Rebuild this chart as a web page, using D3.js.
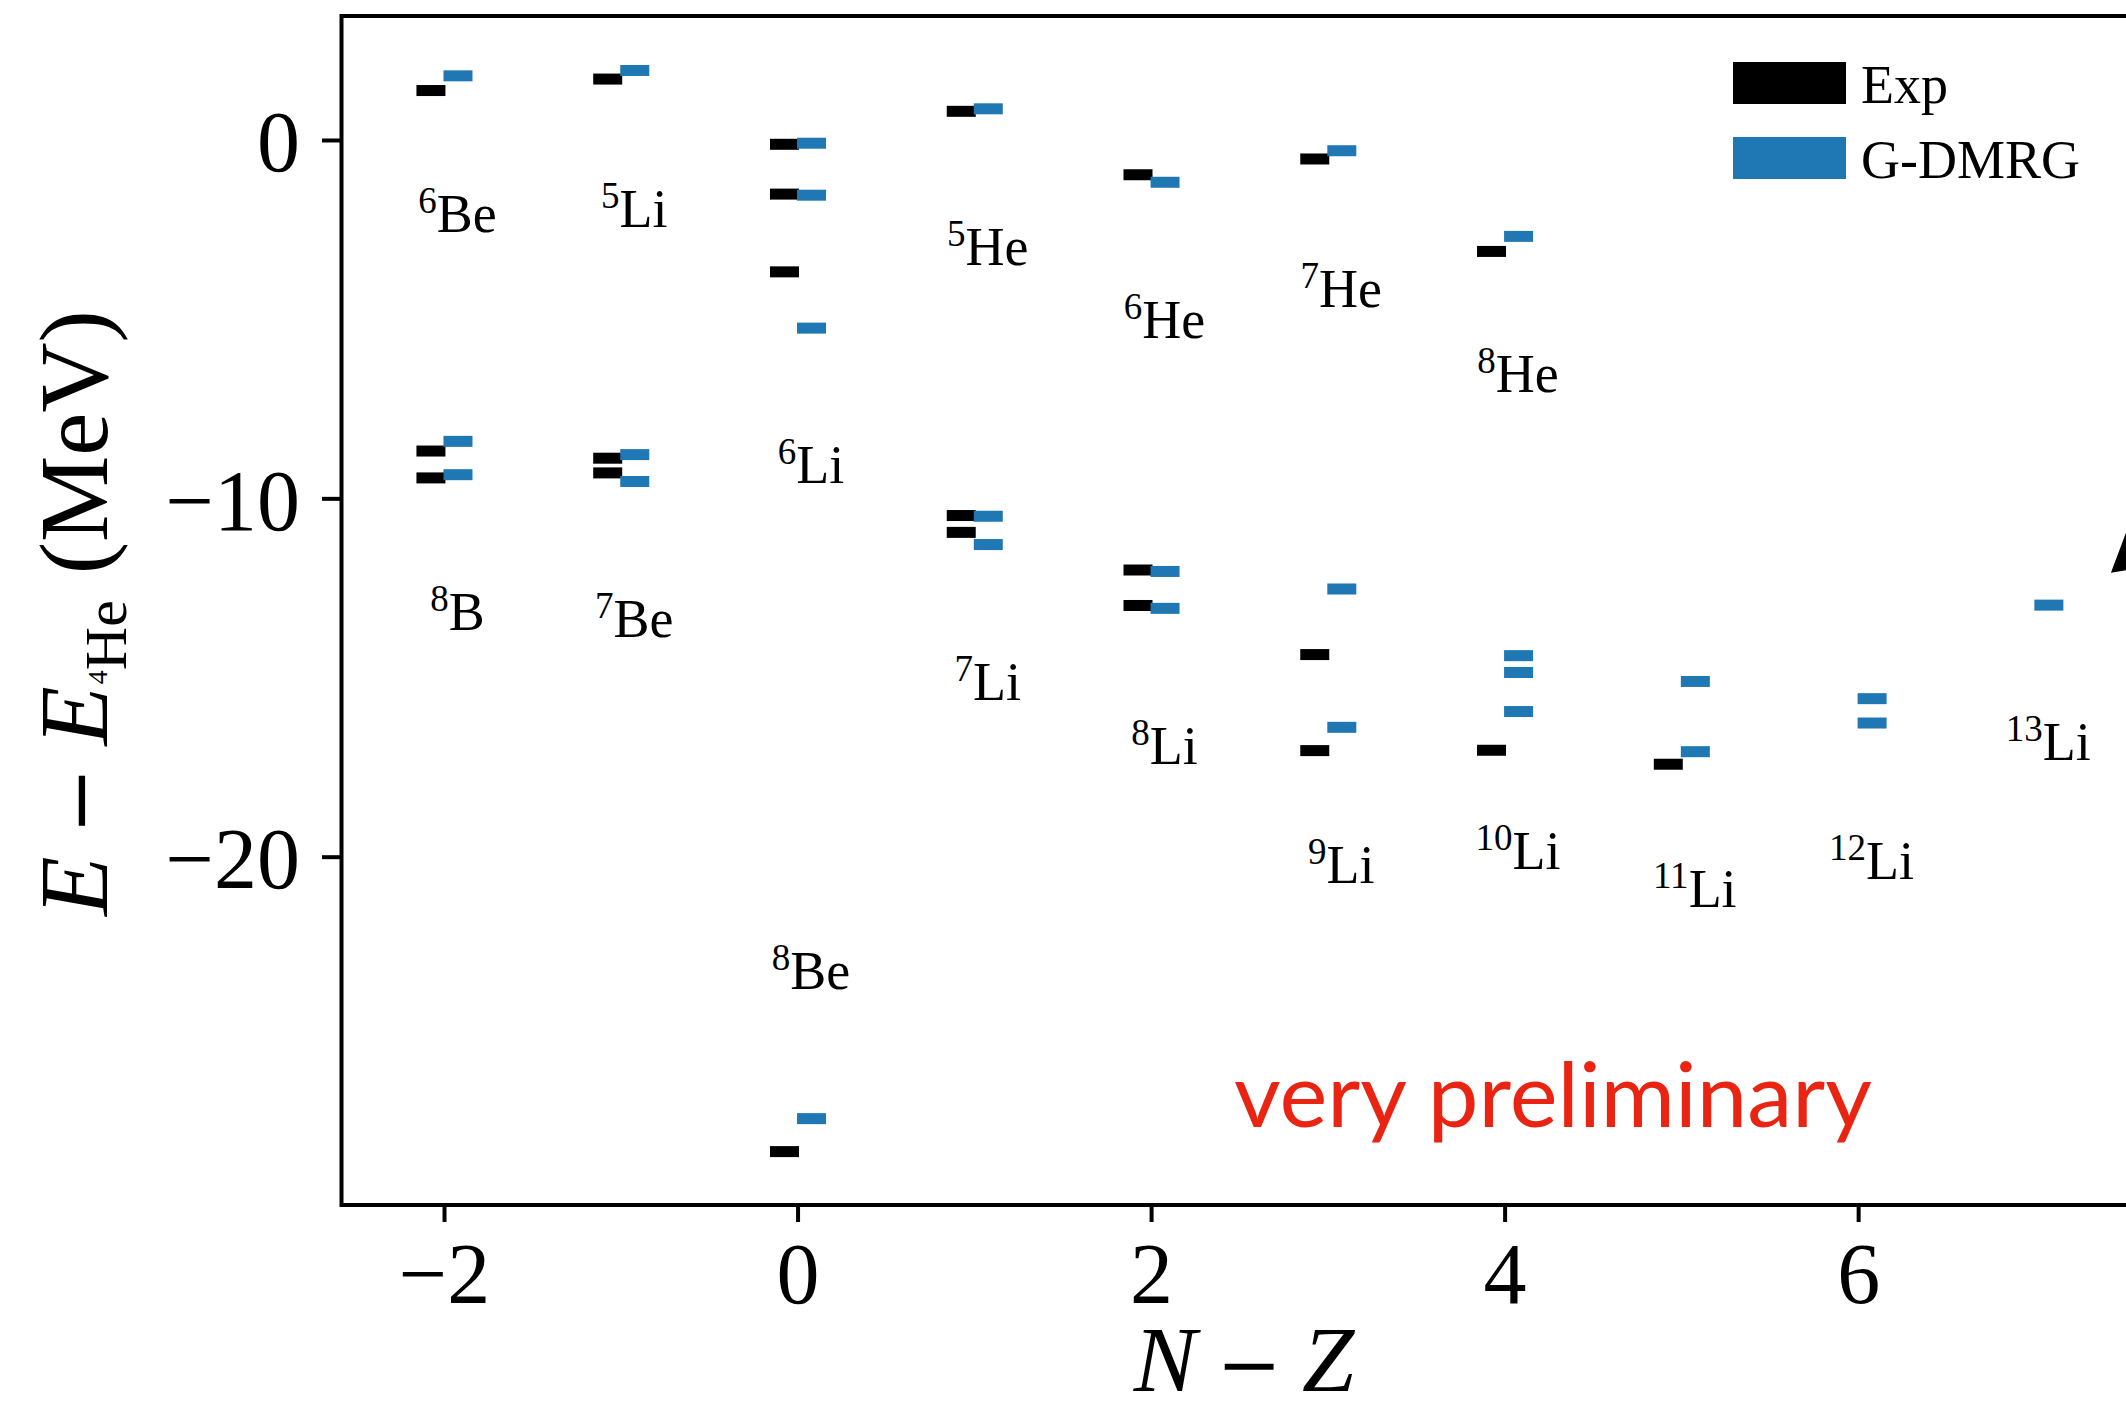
<!DOCTYPE html>
<html>
<head>
<meta charset="utf-8">
<script src="https://cdn.jsdelivr.net/npm/d3@7"></script>
<style>
  html, body { margin: 0; padding: 0; background: #fff; overflow: hidden; }
</style>
</head>
<body>
<div id="chart"></div>
<script>
// nuclei
const massNumbers = [6, 5, 6, 5, 6, 7, 8, 8, 7, 7, 8, 9, 10, 11, 12, 13, 8];
const elements = ["Be", "Li", "Li", "He", "He", "He", "He", "B", "Be", "Li", "Li", "Li", "Li", "Li", "Li", "Li", "Be"];
const nMinusZ = [-2, -1, 0, 1, 2, 3, 4, -2, -1, 1, 2, 3, 4, 5, 6, 7, 0];

// levels in MeV, relative to 4He
const expLevels = [
  [1.38], [1.70], [-0.12, -1.51, -3.68], [0.80], [-0.97], [-0.53], [-3.11],
  [-8.68, -9.43], [-8.88, -9.29], [-10.48, -10.95], [-12.00, -12.99],
  [-14.36, -17.04], [-17.03], [-17.42], [], [], [-28.23]
];
const dmrgLevels = [
  [1.79], [1.94], [-0.09, -1.54, -5.25], [0.87], [-1.18], [-0.30], [-2.69],
  [-8.41, -9.34], [-8.78, -9.53], [-10.50, -11.29], [-12.04, -13.07],
  [-12.53, -16.39], [-14.39, -14.86, -15.95], [-15.11, -17.07], [-15.59, -16.27], [-12.98], [-27.31]
];
// where each nucleus name sits (baseline, MeV)
const labelEnergies = [-2.57, -2.43, -9.58, -3.49, -5.53, -4.65, -7.02, -13.68, -13.86, -15.63, -17.40, -20.73, -20.33, -21.41, -20.61, -17.30, -23.68];

const xTickValues = [-2, 0, 2, 4, 6];
const yTickValues = [0, -10, -20];
const legendLabels = ["Exp", "G-DMRG"];
const legendColors = ["#000000", "#1f77b4"];

// arrow head poking in from the right edge (data coords)
const arrowHead = [[7.43, -12.08], [7.595, -9.91], [7.652, -11.89]];

function drawPlot() {
  const serif = "'Liberation Serif', 'DejaVu Serif', serif";
  const minusFont = "'DejaVu Serif', serif";

  let dimensions = {
    width: 2126,
    height: 1412,
    margin: { top: 16, left: 341.5 },
    boundedWidth: 1803,
    boundedHeight: 1189,
  };

  const wrapper = d3.select("#chart")
    .append("svg")
      .attr("width", dimensions.width)
      .attr("height", dimensions.height)
      .style("display", "block");

  const bounds = wrapper.append("g")
      .attr("transform", `translate(${dimensions.margin.left}, ${dimensions.margin.top})`);

  const xScale = d3.scaleLinear()
    .domain([-2.58, 7.62])
    .range([0, dimensions.boundedWidth]);

  const yScale = d3.scaleLinear()
    .domain([-29.72, 3.46])
    .range([dimensions.boundedHeight, 0]);

  // flatten levels into bars
  const bars = [];
  nMinusZ.forEach((nz, i) => {
    expLevels[i].forEach(e => bars.push({ nz, e, kind: 0 }));
  });
  nMinusZ.forEach((nz, i) => {
    dmrgLevels[i].forEach(e => bars.push({ nz, e, kind: 1 }));
  });
  const barOffsets = [[-0.156, 0.008], [-0.003, 0.161]];
  const barHeight = 11;

  bounds.append("g")
    .selectAll("rect")
    .data(bars)
    .join("rect")
      .attr("x", d => xScale(d.nz + barOffsets[d.kind][0]))
      .attr("width", d => xScale(d.nz + barOffsets[d.kind][1]) - xScale(d.nz + barOffsets[d.kind][0]))
      .attr("y", d => yScale(d.e) - barHeight / 2)
      .attr("height", barHeight)
      .attr("fill", d => legendColors[d.kind]);

  // nucleus labels
  const labels = bounds.append("g")
    .selectAll("text")
    .data(nMinusZ.map((nz, i) => ({ nz, a: massNumbers[i], el: elements[i], e: labelEnergies[i] })))
    .join("text")
      .attr("x", d => xScale(d.nz + 0.076))
      .attr("y", d => yScale(d.e))
      .attr("text-anchor", "middle")
      .attr("font-family", serif)
      .attr("font-size", 54)
      .attr("fill", "#000");
  labels.append("tspan")
      .attr("font-size", 37)
      .attr("dy", -19)
      .text(d => d.a);
  labels.append("tspan")
      .attr("dy", 19)
      .text(d => d.el);

  // 6. Draw peripherals
  const yAxisGenerator = d3.axisLeft(yScale)
    .tickValues(yTickValues)
    .tickSize(19.5)
    .tickPadding(22);

  bounds.append("g")
    .call(yAxisGenerator)
    .call(g => g.select(".domain").remove())
    .call(g => g.selectAll(".tick line").attr("stroke", "#000").attr("stroke-width", 4))
    .call(g => g.selectAll(".tick text")
      .attr("font-family", serif)
      .attr("font-size", 86)
      .attr("dy", "0.36em")
      .attr("fill", "#000"));

  const xAxisGenerator = d3.axisBottom(xScale)
    .tickValues(xTickValues)
    .tickSize(17)
    .tickPadding(20);

  bounds.append("g")
    .attr("transform", `translate(0, ${dimensions.boundedHeight})`)
    .call(xAxisGenerator)
    .call(g => g.select(".domain").remove())
    .call(g => g.selectAll(".tick line").attr("stroke", "#000").attr("stroke-width", 4))
    .call(g => g.selectAll(".tick text")
      .attr("font-family", serif)
      .attr("font-size", 86)
      .attr("fill", "#000"));

  // spines (right one falls outside the picture)
  bounds.append("rect")
    .attr("x", 0)
    .attr("y", 0)
    .attr("width", dimensions.boundedWidth)
    .attr("height", dimensions.boundedHeight)
    .attr("fill", "none")
    .attr("stroke", "#000")
    .attr("stroke-width", 4);

  // arrow head
  bounds.append("path")
    .attr("d", d3.line().x(d => xScale(d[0])).y(d => yScale(d[1]))(arrowHead) + "Z")
    .attr("fill", "#000");

  // axis labels
  const yLabel = wrapper.append("text")
    .attr("transform", "translate(107, 613) rotate(-90)")
    .attr("text-anchor", "middle")
    .attr("font-family", serif)
    .attr("font-size", 97)
    .attr("fill", "#000");
  yLabel.append("tspan").attr("font-style", "italic").text("E");
  yLabel.append("tspan").attr("dx", 22).attr("font-family", minusFont).attr("font-size", 80).text("\u2212");
  yLabel.append("tspan").attr("dx", 22).attr("font-style", "italic").text("E");
  yLabel.append("tspan").attr("font-size", 28).attr("dx", 2).text("4");
  yLabel.append("tspan").attr("font-size", 60).attr("dy", 19).text("He");
  yLabel.append("tspan").attr("dy", -19).attr("dx", 26).text("(MeV)");

  const xLabel = wrapper.append("text")
    .attr("x", 1244)
    .attr("y", 1391)
    .attr("text-anchor", "middle")
    .attr("font-family", serif)
    .attr("font-size", 94)
    .attr("fill", "#000");
  xLabel.append("tspan").attr("font-style", "italic").text("N");
  xLabel.append("tspan").attr("dx", 20).attr("font-family", minusFont).attr("font-size", 78).text("\u2212");
  xLabel.append("tspan").attr("dx", 20).attr("font-style", "italic").text("Z");

  // legend
  const legend = bounds.append("g")
    .attr("transform", "translate(1391.5, 46)")
    .selectAll("g")
    .data(legendLabels)
    .join("g")
      .attr("transform", (d, i) => `translate(0, ${i * 75})`);
  legend.append("rect")
    .attr("width", 113)
    .attr("height", 42)
    .attr("fill", (d, i) => legendColors[i]);
  legend.append("text")
    .attr("x", 128)
    .attr("y", 40.7)
    .attr("font-family", serif)
    .attr("font-size", 54)
    .attr("fill", "#000")
    .text(d => d);

  // stamp
  bounds.append("text")
    .attr("x", 892.5)
    .attr("y", 1111)
    .attr("font-family", "Lato, 'Open Sans', sans-serif")
    .attr("font-size", 90)
    .attr("textLength", 638)
    .attr("lengthAdjust", "spacingAndGlyphs")
    .attr("fill", "#ea2413")
    .text("very preliminary");
}
drawPlot();
</script>
</body>
</html>
